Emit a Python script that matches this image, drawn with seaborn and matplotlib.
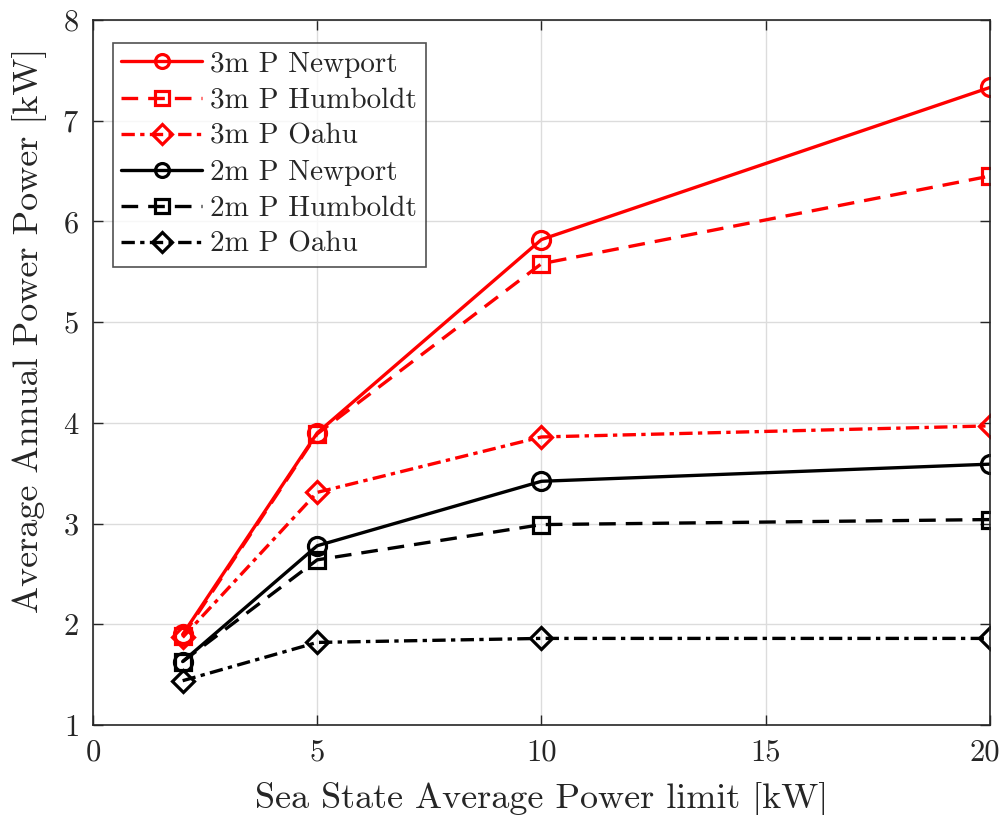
import matplotlib
matplotlib.use("Agg")
import matplotlib.pyplot as plt
import matplotlib.transforms as mtransforms
import seaborn as sns
import pandas as pd

x_limits = [2, 5, 10, 20]
p3_newport = [1.90, 3.90, 5.82, 7.33]
p3_humboldt = [1.88, 3.89, 5.58, 6.45]
p3_oahu = [1.87, 3.31, 3.86, 3.97]
p2_newport = [1.63, 2.78, 3.42, 3.59]
p2_humboldt = [1.63, 2.64, 2.99, 3.04]
p2_oahu = [1.44, 1.82, 1.86, 1.86]

x_ticks = [0, 5, 10, 15, 20]
x_tick_labels = ["0", "5", "10", "15", "20"]
y_ticks = [1, 2, 3, 4, 5, 6, 7, 8]

series_names = ["3m P Newport", "3m P Humboldt", "3m P Oahu",
                "2m P Newport", "2m P Humboldt", "2m P Oahu"]
series_values = [p3_newport, p3_humboldt, p3_oahu, p2_newport, p2_humboldt, p2_oahu]
colors = ["#ff0000"] * 3 + ["#000000"] * 3
dash_solid = "-"
dash_dashed = (0, (5.0, 3.0))
dash_dashdot = (0, (4.0, 1.6, 1.3, 1.6))
linestyles = [dash_solid, dash_dashed, dash_dashdot, dash_solid, dash_dashed, dash_dashdot]
markers = ["o", "s", "D", "o", "s", "D"]
msizes = [13, 11, 11, 13, 11, 11]

sns.set_theme(style="white")
plt.rcParams["font.family"] = ["cmr10", "DejaVu Serif"]
plt.rcParams["mathtext.fontset"] = "cm"
plt.rcParams["axes.formatter.use_mathtext"] = True

fig = plt.figure(figsize=(10.05, 8.15), dpi=100)
ax = fig.add_axes([0.0925, 0.1104, 0.8925, 0.8651])

for name, vals, c, ls, m, ms in zip(series_names, series_values, colors, linestyles, markers, msizes):
    df = pd.DataFrame({"x": x_limits, "y": vals})
    sns.lineplot(data=df, x="x", y="y", ax=ax, color=c, linestyle=ls, marker=m,
                 markersize=ms, markerfacecolor="none", markeredgecolor=c,
                 markeredgewidth=2.3, linewidth=2.4, label=name)

ax.set_xlim(0, 20)
ax.set_ylim(1, 8)
ax.set_xticks(x_ticks, x_tick_labels)
ax.set_yticks(y_ticks)
ax.grid(True, color="#dcdcdc", linewidth=1.0)
ax.set_axisbelow(True)
for sp in ax.spines.values():
    sp.set_color("#262626")
    sp.set_linewidth(1.2)
ax.tick_params(direction="in", length=7, width=1.0, colors="#262626",
               labelsize=22, labelcolor="#262626", top=True, right=True,
               bottom=True, left=True, pad=10)

ax.set_xlabel("Sea State Average Power limit [kW]", fontsize=26, color="#262626", labelpad=11)
ax.set_ylabel("Average Annual Power Power [kW]", fontsize=26, color="#262626")
ax.yaxis.set_label_coords(-0.051, 0.56)

leg = ax.legend(loc="upper left", bbox_to_anchor=(0.022, 0.968), fontsize=21,
                handlelength=2.75, frameon=True, fancybox=False, borderpad=0.3,
                labelspacing=0.33, handletextpad=0.3, borderaxespad=0.0)
leg.get_frame().set_edgecolor("#262626")
leg.get_frame().set_linewidth(1.2)
for h in leg.legend_handles:
    h.set_markersize(10)

# keep the last x tick label inside the figure, as in the reference
for lbl in ax.get_xticklabels():
    if lbl.get_text() == "20":
        lbl.set_horizontalalignment("right")
        lbl.set_transform(lbl.get_transform()
                          + mtransforms.ScaledTranslation(10 / 100, 0, fig.dpi_scale_trans))

fig.savefig("out.png", dpi=100)
